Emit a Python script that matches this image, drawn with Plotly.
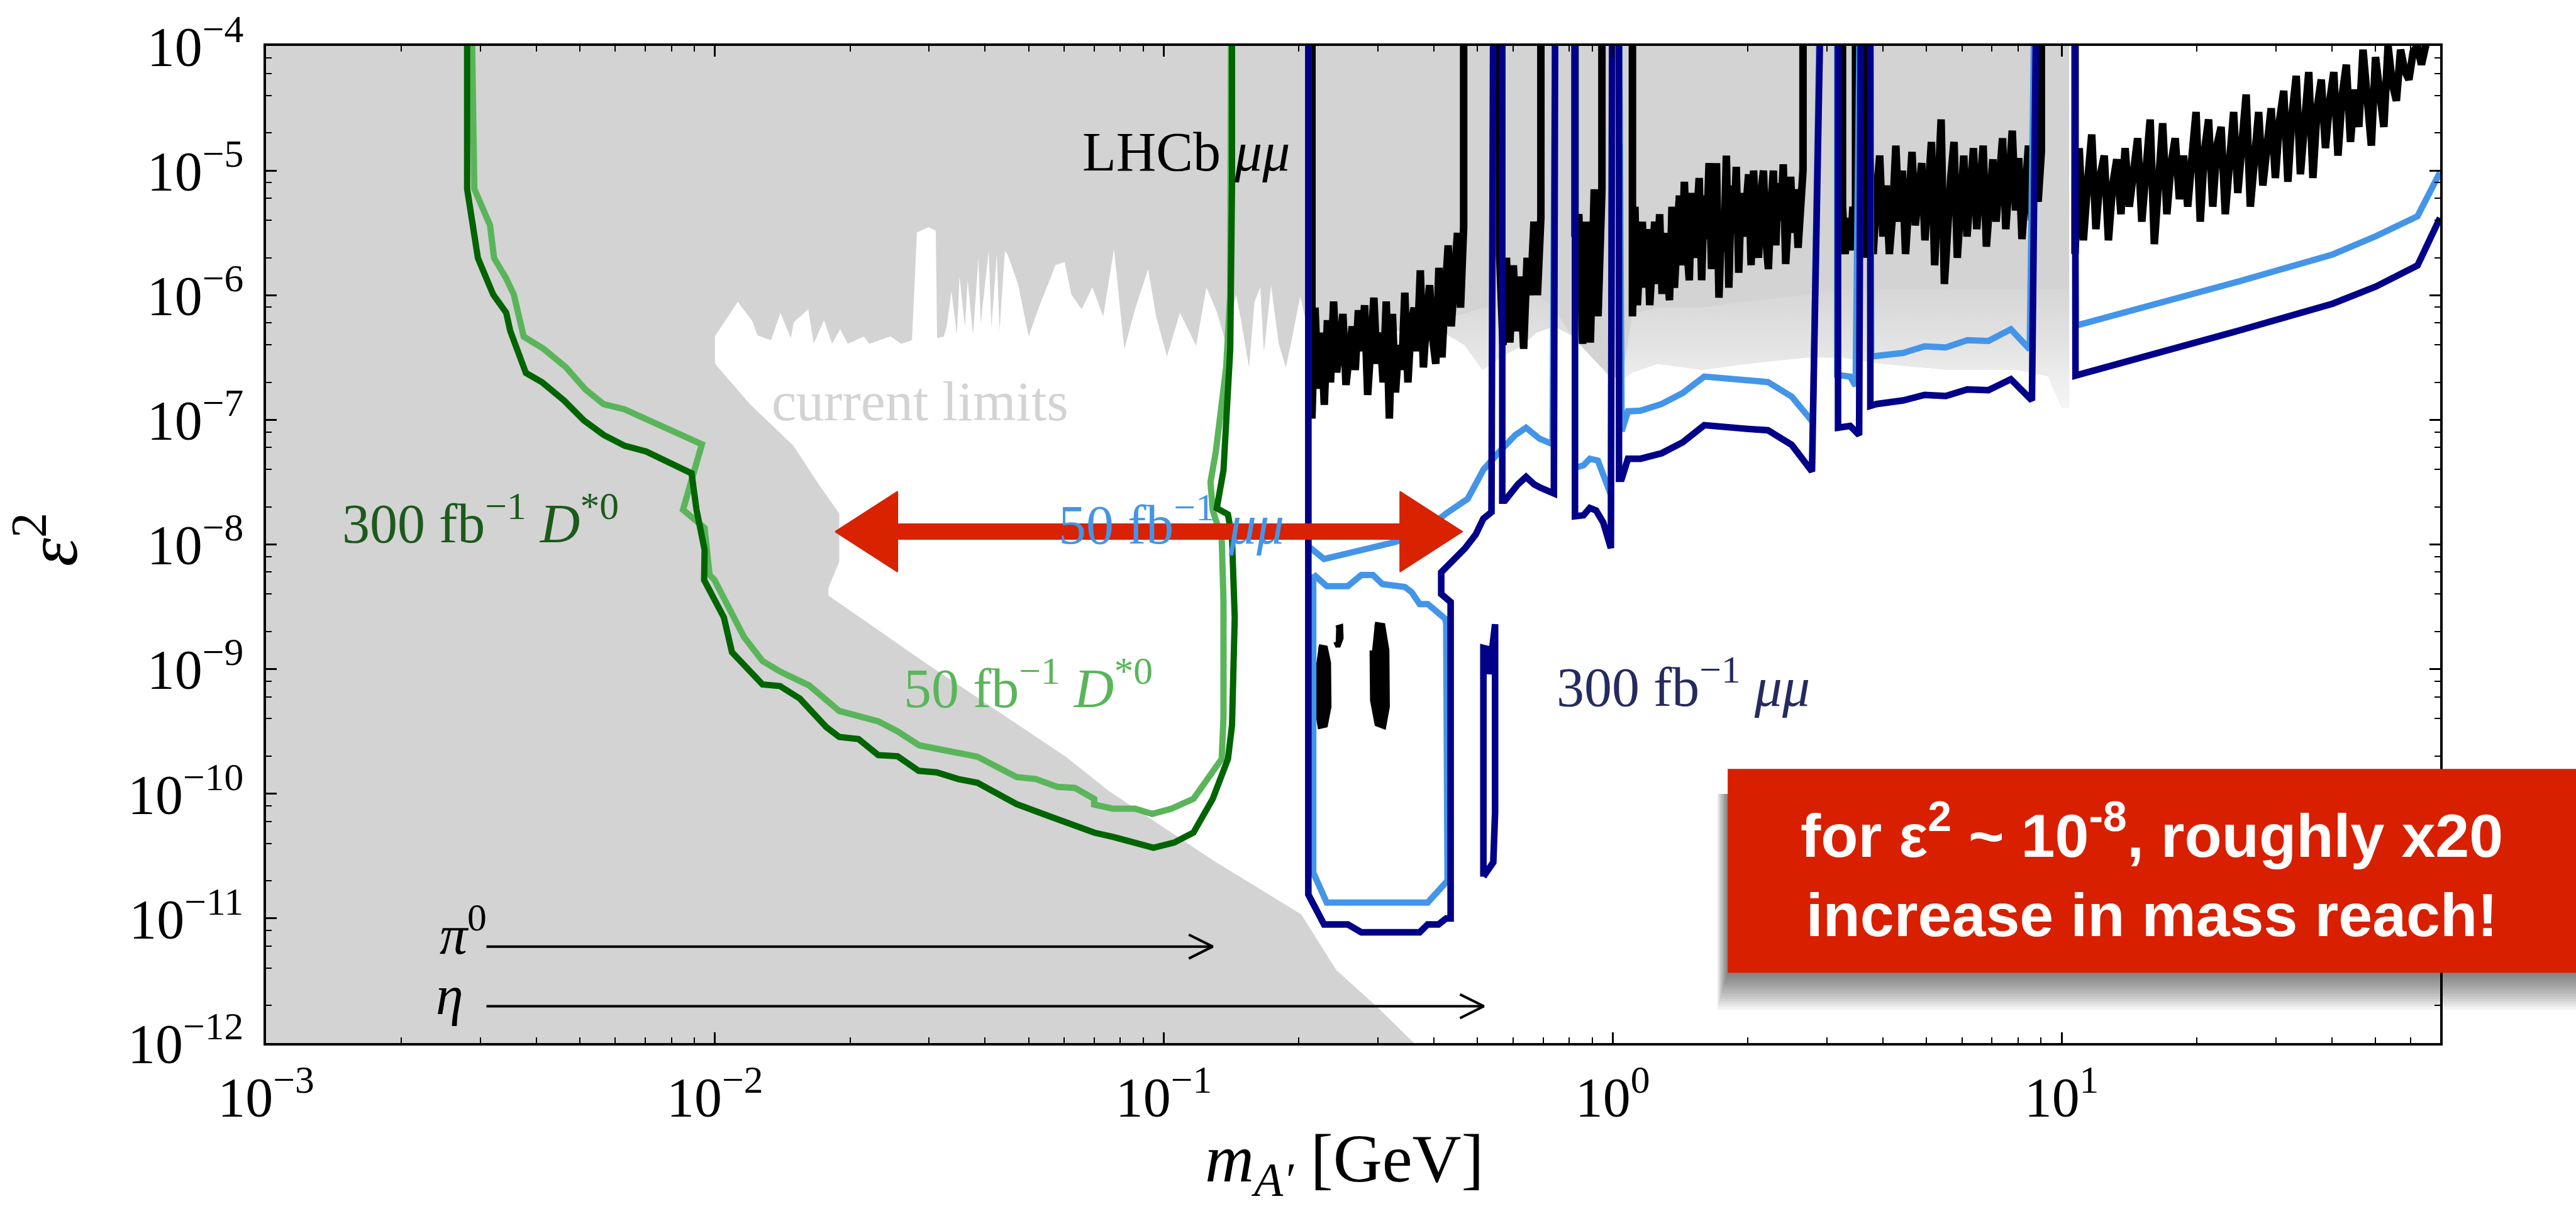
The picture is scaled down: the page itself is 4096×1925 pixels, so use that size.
import numpy as np
import plotly.graph_objects as go

# ---------------- canvas and frame ----------------
W, H = 4096, 1925
ML, MR, MT, MB = 423, 216, 69, 267
PW, PH = W - ML - MR, H - MT - MB
LOGM_RANGE = [-3.0, 1.8434]          # log10(m_A' / GeV)
LOGE_RANGE = [-12.0, -4.0]           # log10(eps^2)
X_PPD = PW / (LOGM_RANGE[1] - LOGM_RANGE[0])   # pixels per decade
Y_PPD = PH / (LOGE_RANGE[1] - LOGE_RANGE[0])
TOP = -3.5                           # above the frame: curves leave through the top

SERIF = "Liberation Serif, DejaVu Serif, serif"
SANS = "Liberation Sans, Arial, Helvetica, sans-serif"

GRAY = "#d3d3d3"
DARK_GREEN = "#006400"
LIGHT_GREEN = "#5ab55a"
NAVY = "#000088"
LIGHT_BLUE = "#4495e8"
RED = "#d92200"

# ---------------- existing limits ----------------
# lower edge of the excluded band above the allowed window (log10 m, log10 eps^2)
UPPER_EDGE_LOGM = [-2.000, -1.949, -1.917, -1.905, -1.875, -1.854, -1.831, -1.824, -1.810, -1.792,
                   -1.780, -1.757, -1.739, -1.721, -1.704, -1.668, -1.656, -1.609, -1.585, -1.561,
                   -1.550, -1.524, -1.508, -1.505, -1.490, -1.484, -1.473, -1.461, -1.455, -1.443,
                   -1.437, -1.425, -1.413, -1.408, -1.390, -1.384, -1.372, -1.366, -1.354, -1.348,
                   -1.325, -1.301, -1.277, -1.254, -1.242, -1.221, -1.206, -1.183, -1.159, -1.135,
                   -1.111, -1.088, -1.064, -1.035, -1.017, -0.993, -0.964, -0.928, -0.905, -0.881,
                   -0.863, -0.839, -0.828, -0.810, -0.798, -0.785, -0.777, -0.761, -0.744, -0.728,
                   -0.716, -0.696, -0.684]
UPPER_EDGE_LOGE = [-6.331, -6.053, -6.206, -6.323, -6.361, -6.141, -6.346, -6.214, -6.171, -6.112,
                   -6.390, -6.200, -6.390, -6.273, -6.390, -6.331, -6.390, -6.331, -6.390, -6.361,
                   -5.497, -5.454, -5.483, -6.346, -6.331, -6.258, -5.966, -6.317, -5.849, -6.258,
                   -5.878, -6.317, -5.702, -6.229, -5.644, -6.258, -5.673, -6.288, -5.644, -5.673,
                   -5.907, -6.331, -6.083, -5.878, -5.761, -5.732, -5.995, -6.112, -5.937, -6.171,
                   -5.629, -6.434, -6.112, -5.790, -6.171, -6.492, -6.141, -6.405, -5.937, -6.141,
                   -6.375, -5.995, -6.200, -6.580, -6.053, -5.937, -6.463, -5.922, -6.390, -6.580,
                   -6.375, -6.010, -6.200]

# under the LHCb dimuon scan: solid edge and the fading hairline band below it
FUZZ_LOGM = [-0.684, -0.60, -0.50, -0.40, -0.33, -0.29, -0.25, -0.20, -0.17, -0.13, -0.093, -0.051,
             -0.010, 0.02, 0.044, 0.10, 0.20, 0.30, 0.43, 0.51, 0.60, 0.75, 0.90, 0.97, 1.0, 1.017]
SOLID_LOW = [-6.30, -6.35, -6.30, -6.20, -6.15, -6.10, -6.10, -6.05, -5.99, -6.10, -6.32, -6.48,
             -6.64, -6.68, -6.15, -6.10, -6.10, -6.05, -6.00, -5.95, -5.95, -5.95, -5.95, -5.95, -5.95, -5.95]
FUZZ_LOW = [-6.30, -6.35, -6.30, -6.25, -6.40, -6.60, -6.50, -6.40, -6.30, -6.25, -6.32, -6.48,
            -6.64, -6.68, -6.62, -6.55, -6.60, -6.55, -6.50, -6.50, -6.55, -6.60, -6.60, -6.65, -6.90, -6.90]

# beam-dump boundary, from the bottom of the frame upwards
BEAM_DUMP_LOGM = [-0.386, -0.443, -0.525, -0.616, -0.694, -0.891, -1.122, -1.218, -1.535, -1.747,
                  -1.747, -1.723, -1.723, -1.769, -1.825, -1.922, -2.000]
BEAM_DUMP_LOGE = [-12.2, -12.0, -11.71, -11.413, -10.967, -10.533, -9.978, -9.703, -8.94, -8.41,
                  -8.347, -8.139, -7.751, -7.517, -7.208, -6.874, -6.549]

# ---------------- LHCb dimuon limit (black) ----------------
# (first log10 m, last log10 m, log10 eps^2 along the scan)
LHCB_SCAN = [
    (-0.670, -0.332, [-6.99, -6.10, -6.75, -6.30, -6.88, -6.20, -6.70, -6.05, -6.62, -6.40, -6.15, -6.72,
                      -6.40, -6.25, -6.60, -6.12, -6.45, -6.08, -6.80, -6.35, -6.02, -6.55, -6.30, -6.70,
                      -6.05, -6.99, -6.15, -6.78, -6.40, -6.60, -5.98, -6.70, -6.25, -6.10, -6.45, -5.80,
                      -6.58, -6.20, -5.92, -6.35, -6.55, -5.78, -6.50, -6.00, -5.60, -6.25, -5.95, -5.50,
                      -6.10, -5.45]),
    (-0.252, -0.160, [-5.67, -6.40, -5.70, -6.38, -5.76, -6.29, -5.85, -6.43, -5.70, -6.00, -5.41, -6.00, -5.38]),
    (-0.084, -0.024, [-5.53, -5.35, -6.39, -5.41, -6.38, -5.15, -6.17, -5.15]),
    (0.044, 0.424, [-6.17, -5.29, -6.08, -5.70, -5.41, -5.94, -5.47, -6.08, -5.60, -5.41, -5.91, -5.35,
                    -5.99, -5.50, -5.80, -6.04, -5.29, -5.94, -5.55, -5.20, -5.76, -5.09, -5.60, -5.88,
                    -5.18, -5.70, -5.40, -5.06, -5.88, -5.20, -5.55, -4.94, -5.79, -5.30, -4.94, -6.02,
                    -5.41, -5.65, -4.88, -5.94, -5.12, -5.50, -4.97, -5.82, -5.18, -5.53, -5.25, -5.03,
                    -5.76, -5.00, -5.45, -5.70, -5.18, -5.00, -5.55, -5.79, -5.29, -5.00, -5.60, -5.10,
                    -5.40, -4.95, -5.75, -5.20, -5.05, -5.50, -5.15, -5.62, -5.25, -5.00]),
    (0.512, 0.541, [-5.29, -5.67, -5.38, -5.64, -5.29, -5.61]),
    (0.566, 0.955, [-5.70, -4.91, -5.67, -5.20, -4.88, -5.53, -5.12, -5.67, -5.35, -4.80, -5.41, -5.00,
                    -5.67, -5.25, -4.85, -5.44, -5.12, -4.94, -5.56, -5.10, -4.77, -5.76, -5.20, -4.59,
                    -5.91, -5.41, -5.05, -4.77, -5.70, -5.30, -4.88, -5.53, -5.10, -4.82, -5.47, -5.20,
                    -4.80, -5.61, -5.15, -4.91, -5.41, -5.00, -4.74, -5.47, -5.10, -4.68, -5.32, -4.90,
                    -5.55, -5.05, -4.80, -5.40, -4.95, -5.25, -4.85]),
    (1.030, 1.811, [-5.67, -4.82, -5.56, -5.10, -4.71, -5.47, -5.05, -4.88, -5.56, -5.12, -4.91, -5.35,
                    -4.82, -5.29, -5.00, -4.74, -5.41, -4.95, -4.59, -5.59, -5.00, -4.62, -5.35, -4.95,
                    -4.74, -5.23, -4.88, -5.29, -4.90, -4.53, -5.41, -4.85, -4.59, -5.29, -4.80, -4.65,
                    -5.35, -4.85, -4.53, -5.18, -4.70, -4.39, -5.29, -4.80, -4.53, -5.12, -4.75, -4.50,
                    -5.06, -4.60, -4.36, -5.09, -4.55, -4.24, -5.03, -4.60, -4.21, -5.06, -4.50, -4.27,
                    -4.82, -4.45, -4.21, -4.88, -4.40, -4.15, -4.77, -4.35, -4.65, -4.03, -4.50, -4.80,
                    -4.09, -4.40, -4.65, -4.00, -4.30, -4.44, -4.03, -4.20, -4.27, -4.05, -4.00, -4.15,
                    -4.00]),
]
# small displaced-vertex islands of the same limit
LHCB_ISLANDS = [
    ([-0.655, -0.640, -0.633, -0.632, -0.640, -0.652, -0.659, -0.660],
     [-8.82, -8.83, -8.95, -9.30, -9.45, -9.46, -9.30, -8.95]),
    ([-0.616, -0.606, -0.605, -0.612, -0.617],
     [-8.67, -8.66, -8.75, -8.82, -8.78]),
    ([-0.530, -0.512, -0.503, -0.502, -0.510, -0.525, -0.535, -0.536],
     [-8.64, -8.65, -8.85, -9.30, -9.46, -9.44, -9.25, -8.85]),
]

# ---------------- D*0 -> D0 A' projections ----------------
DSTAR_300_LOGM = [-2.552, -2.552, -2.528, -2.494, -2.465, -2.456, -2.421, -2.385, -2.336, -2.292, -2.248,
                  -2.201, -2.153, -2.052, -2.041, -2.023, -2.024, -1.988, -1.980, -1.962, -1.894, -1.855,
                  -1.811, -1.752, -1.723, -1.680, -1.636, -1.593, -1.546, -1.506, -1.458, -1.415, -1.328,
                  -1.256, -1.155, -1.113, -1.064, -1.023, -0.977, -0.934, -0.891, -0.857, -0.848, -0.842,
                  -0.848, -0.857, -0.882, -0.867, -0.857, -0.852, -0.848, -0.848]
DSTAR_300_LOGE = [TOP, -5.147, -5.702, -5.994, -6.140, -6.286, -6.624, -6.699, -6.845, -7.004, -7.121,
                  -7.208, -7.254, -7.429, -7.721, -8.043, -8.285, -8.514, -8.585, -8.864, -9.123, -9.136,
                  -9.236, -9.465, -9.544, -9.561, -9.690, -9.699, -9.816, -9.828, -9.882, -9.912, -10.083,
                  -10.179, -10.312, -10.346, -10.392, -10.433, -10.392, -10.312, -10.041, -9.720, -9.449, -8.589,
                  -7.951, -7.759, -7.709, -7.404, -6.758, -6.432, -5.118, TOP]
DSTAR_50_LOGM = [-2.543, -2.536, -2.501, -2.492, -2.465, -2.448, -2.426, -2.381, -2.332, -2.288, -2.248,
                 -2.201, -2.029, -2.071, -2.023, -2.012, -2.001, -1.959, -1.935, -1.894, -1.853, -1.790,
                 -1.723, -1.636, -1.593, -1.545, -1.415, -1.328, -1.285, -1.237, -1.198, -1.155, -1.155,
                 -1.113, -1.064, -1.026, -0.983, -0.934, -0.871, -0.867, -0.867, -0.871, -0.891, -0.896,
                 -0.884, -0.861, -0.852, -0.850]
DSTAR_50_LOGE = [TOP, -5.147, -5.439, -5.702, -5.865, -5.994, -6.332, -6.432, -6.578, -6.758, -6.874,
                 -6.916, -7.196, -7.721, -7.867, -8.243, -8.285, -8.564, -8.743, -8.935, -9.023, -9.131,
                 -9.336, -9.419, -9.499, -9.611, -9.703, -9.866, -9.882, -9.945, -9.953, -10.041, -10.087,
                 -10.120, -10.120, -10.162, -10.120, -10.041, -9.720, -9.386, -8.460, -7.951, -7.725, -7.500,
                 -7.254, -6.578, -5.994, TOP]

# ---------------- LHCb Upgrade dimuon projections ----------------
MUMU_300_LOGM = [-0.678, -0.678, -0.643, -0.590, -0.560, -0.430, -0.412, -0.388, -0.371, -0.361, -0.361,
                 -0.382, -0.382, -0.329, -0.305, -0.288, -0.270, -0.266, None,
                 -0.246, -0.246, -0.240, -0.211, -0.193, -0.175, -0.160, -0.131, -0.128, None,
                 -0.084, -0.084, -0.065, -0.051, -0.037, -0.021, -0.004, -0.001, None,
                 0.014, 0.014, 0.020, 0.034, 0.062, 0.109, 0.156, 0.204, 0.298, 0.346, 0.399, 0.444, 0.464, None,
                 0.502, 0.502, 0.529, 0.549, 0.553, None,
                 0.574, 0.574, 0.588, 0.647, 0.695, 0.742, 0.790, 0.837, 0.887, 0.934, 0.944, None,
                 1.030, 1.031, 1.391, 1.604, 1.700, 1.793, 1.843, None,
                 -0.288, -0.288, -0.277, -0.275, -0.262, -0.262, -0.266, -0.288]
MUMU_300_LOGE = [TOP, -10.809, -11.048, -11.048, -11.112, -11.112, -11.048, -11.048, -11.0, -11.0, -8.462,
                 -8.398, -8.223, -8.031, -7.919, -7.792, -7.740, TOP, None,
                 TOP, -7.648, -7.648, -7.517, -7.458, -7.517, -7.546, -7.590, TOP, None,
                 TOP, -7.774, -7.766, -7.707, -7.727, -7.824, -8.029, TOP, None,
                 TOP, -7.473, -7.473, -7.312, -7.312, -7.268, -7.180, -7.043, -7.072, -7.084, -7.201, -7.414, TOP, None,
                 TOP, -7.063, -7.049, -7.122, TOP, None,
                 TOP, -6.888, -6.873, -6.844, -6.800, -6.809, -6.756, -6.762, -6.674, -6.844, TOP, None,
                 TOP, -6.645, -6.288, -6.068, -5.931, -5.761, -5.380, None,
                 -10.665, -8.830, -8.840, -9.040, -8.640, -10.150, -10.550, -10.665]
MUMU_50_LOGM = [-0.678, -0.678, -0.643, -0.572, -0.483, -0.412, -0.371, -0.323, -0.288, -0.252, -0.217,
                -0.193, -0.163, -0.134, -0.128, None,
                -0.084, -0.084, -0.065, -0.051, -0.033, -0.018, -0.004, -0.001, None,
                0.014, 0.020, 0.034, 0.062, 0.109, 0.156, 0.204, 0.298, 0.346, 0.399, 0.446, 0.462, None,
                0.500, 0.500, 0.529, 0.541, 0.551, None,
                0.574, 0.576, 0.647, 0.695, 0.742, 0.790, 0.837, 0.887, 0.929, 0.940, None,
                1.028, 1.032, 1.391, 1.604, 1.700, 1.793, 1.843, None,
                -0.667, -0.637, -0.590, -0.560, -0.534, -0.513, -0.463, -0.448, -0.430, -0.412, -0.373,
                -0.371, -0.368, -0.412, -0.637, -0.667, -0.667]
MUMU_50_LOGE = [TOP, -8.014, -8.117, -8.058, -7.979, -7.868, -7.751, -7.634, -7.400, -7.254, -7.122,
                -7.063, -7.151, -7.195, TOP, None,
                TOP, -7.385, -7.365, -7.312, -7.327, -7.458, -7.600, TOP, None,
                TOP, -7.092, -6.932, -6.926, -6.873, -6.785, -6.653, -6.683, -6.697, -6.814, -7.019, TOP, None,
                TOP, -6.639, -6.653, -6.727, TOP, None,
                TOP, -6.492, -6.463, -6.410, -6.419, -6.361, -6.367, -6.273, -6.434, TOP, None,
                TOP, -6.244, -5.893, -5.673, -5.527, -5.366, -5.015, None,
                -8.239, -8.334, -8.334, -8.245, -8.245, -8.318, -8.341, -8.382, -8.478, -8.478, -8.596,
                -8.638, -10.697, -10.873, -10.873, -10.633, -8.239]

# ---------------- meson mass reach arrows ----------------
MESON_NAMES = ["<i>π</i><sup>0</sup>", "<i>η</i>"]
MESON_ARROW_START = [-2.509, -2.509]      # log10 m
MESON_ARROW_END = [-0.891, -0.287]        # log10 m
MESON_ARROW_LOGE = [-11.226, -11.705]
MESON_LABEL_RIGHT = [-2.505, -2.557]
MESON_LABEL_LOGE = [-11.10, -11.62]

# reach gain at eps^2 ~ 1e-8
REACH_FROM, REACH_TO, REACH_LOGE = -1.732, -0.335, -7.897

# axis ticks
X_TICK_EXP = [-3, -2, -1, 0, 1]
Y_TICK_EXP = [-12, -11, -10, -9, -8, -7, -6, -5, -4]


def pw(vals):
    return [None if v is None else 10.0 ** v for v in vals]


def sup_label(e):
    return "10<sup>" + ("−" + str(-e) if e < 0 else str(e)) + "</sup>"


fig = go.Figure()

# allowed (white) window inside the grey excluded region
white_m = UPPER_EDGE_LOGM + FUZZ_LOGM + [1.017, 1.95, 1.95] + BEAM_DUMP_LOGM
white_e = UPPER_EDGE_LOGE + FUZZ_LOW + [TOP, TOP, -12.2] + BEAM_DUMP_LOGE
fig.add_trace(go.Scatter(x=pw(white_m), y=pw(white_e), mode="lines", fill="toself",
                         fillcolor="white", line=dict(width=0, color="white"),
                         hoverinfo="skip", showlegend=False))
# fading hairline band under the dimuon scan
fig.add_trace(go.Scatter(x=pw(FUZZ_LOGM + FUZZ_LOGM[::-1]), y=pw(SOLID_LOW + FUZZ_LOW[::-1]),
                         mode="lines", fill="toself",
                         fillgradient=dict(type="vertical",
                                           colorscale=[[0, "#f6f6f6"], [0.5, "#e4e4e4"], [1, "#d6d6d6"]]),
                         line=dict(width=0, color="#e3e3e3"), hoverinfo="skip", showlegend=False))

# LHCb dimuon scan
lx, ly = [], []
for m0, m1, vals in LHCB_SCAN:
    xs = list(np.linspace(m0, m1, len(vals)))
    lx += [m0] + xs + [m1, None]
    ly += [TOP] + vals + [TOP, None]
fig.add_trace(go.Scatter(x=pw(lx), y=pw(ly), mode="lines",
                         line=dict(color="black", width=12), hoverinfo="skip", showlegend=False))
for im, ie in LHCB_ISLANDS:
    fig.add_trace(go.Scatter(x=pw(im), y=pw(ie), mode="lines", fill="toself", fillcolor="black",
                             line=dict(color="black", width=8), hoverinfo="skip", showlegend=False))

# D*0 curves
fig.add_trace(go.Scatter(x=pw(DSTAR_50_LOGM), y=pw(DSTAR_50_LOGE), mode="lines",
                         line=dict(color=LIGHT_GREEN, width=10), hoverinfo="skip", showlegend=False))
fig.add_trace(go.Scatter(x=pw(DSTAR_300_LOGM), y=pw(DSTAR_300_LOGE), mode="lines",
                         line=dict(color=DARK_GREEN, width=10), hoverinfo="skip", showlegend=False))

# dimuon projections
fig.add_trace(go.Scatter(x=pw(MUMU_50_LOGM), y=pw(MUMU_50_LOGE), mode="lines",
                         line=dict(color=LIGHT_BLUE, width=10), hoverinfo="skip", showlegend=False))
fig.add_trace(go.Scatter(x=pw(MUMU_300_LOGM), y=pw(MUMU_300_LOGE), mode="lines",
                         line=dict(color=NAVY, width=10.5), hoverinfo="skip", showlegend=False))

# pi0 / eta kinematic reach arrows with open heads
back, half = 38 / X_PPD, 19 / Y_PPD
for s, e, y in zip(MESON_ARROW_START, MESON_ARROW_END, MESON_ARROW_LOGE):
    fig.add_trace(go.Scatter(x=pw([s, e, None, e - back, e, e - back]),
                             y=pw([y, y, None, y + half, y, y - half]),
                             mode="lines", line=dict(color="black", width=4),
                             hoverinfo="skip", showlegend=False))

# double-headed reach arrow
hl, hh, sh = 99 / X_PPD, 64 / Y_PPD, 12 / Y_PPD
a0, a1, ay = REACH_FROM, REACH_TO, REACH_LOGE
arrow_m = [a0, a0 + hl, a0 + hl, a1 - hl, a1 - hl, a1, a1 - hl, a1 - hl, a0 + hl, a0 + hl, a0]
arrow_e = [ay, ay + hh, ay + sh, ay + sh, ay + hh, ay, ay - hh, ay - sh, ay - sh, ay - hh, ay]
fig.add_trace(go.Scatter(x=pw(arrow_m), y=pw(arrow_e), mode="lines", fill="toself",
                         fillcolor=RED, line=dict(color=RED, width=2),
                         hoverinfo="skip", showlegend=False))


# ---------------- labels ----------------
def label(xm, ye, text, color, size=88, xanchor="center"):
    return dict(x=xm, y=ye, xref="x", yref="y", text=text, showarrow=False,
                xanchor=xanchor, yanchor="middle",
                font=dict(family=SERIF, size=size, color=color))


annotations = [
    label(-0.950, -4.85, "LHCb <i>μμ</i>", "black"),
    label(-1.543, -6.854, "current limits", "#d3d3d3"),
    label(-2.522, -7.80, "300 fb<sup>−1</sup> <i>D</i><sup>*0</sup>", "#1c5a1c"),
    label(-1.302, -9.12, "50 fb<sup>−1</sup> <i>D</i><sup>*0</sup>", LIGHT_GREEN),
    label(-0.983, -7.81, "50 fb<sup>−1</sup> <i>μμ</i>", LIGHT_BLUE),
    label(0.157, -9.11, "300 fb<sup>−1</sup> <i>μμ</i>", "#252b5e"),
]
for name, xr, ye in zip(MESON_NAMES, MESON_LABEL_RIGHT, MESON_LABEL_LOGE):
    annotations.append(label(xr, ye, name, "black", xanchor="right"))

# axis titles
annotations.append(dict(x=0.496, y=-0.121, xref="paper", yref="paper", showarrow=False,
                        text="<i>m</i><sub><i>A′</i></sub> [GeV]", xanchor="center", yanchor="middle",
                        font=dict(family=SERIF, size=108, color="black")))
annotations.append(dict(x=-0.101, y=0.505, xref="paper", yref="paper", showarrow=False,
                        text="<i>ε</i><sup>2</sup>", textangle=-90, xanchor="center", yanchor="middle",
                        font=dict(family=SERIF, size=115, color="black")))

# call-out box
px, py = 1.0 / PW, 1.0 / PH
bx0, bx1, by0, by1 = 0.6723, 1.07, 0.0705, 0.2750
shapes = []
for k in range(1, 15):
    shapes.append(dict(type="rect", xref="paper", yref="paper", layer="above",
                       x0=bx0 - 1.2 * k * px, x1=bx1, y0=by0 - 4.2 * k * py, y1=by1 - 40 * py,
                       fillcolor="rgba(0,0,0,0.045)", line=dict(width=0)))
shapes.append(dict(type="rect", xref="paper", yref="paper", layer="above",
                   x0=bx0, x1=bx1, y0=by0, y1=by1, fillcolor="#d81f00", line=dict(width=0)))
annotations.append(dict(x=0.8675, y=0.1724, xref="paper", yref="paper", showarrow=False,
                        text="for ε<sup>2</sup> ~ 10<sup>-8</sup>, roughly x20<br>increase in mass reach!",
                        align="center", xanchor="center", yanchor="middle",
                        font=dict(family=SANS, size=97, color="white", weight="bold")))

x_minor = [k * 10.0 ** e for e in range(-3, 2) for k in range(2, 10)]
y_minor = [k * 10.0 ** e for e in range(-12, -4) for k in (2, 4, 6, 8)]

axis_common = dict(type="log", showgrid=False, zeroline=False, showline=True, linecolor="black",
                   linewidth=4, mirror="allticks", ticks="inside", ticklen=17, tickwidth=2.5,
                   tickcolor="black", tickfont=dict(family=SERIF, size=88, color="black"))

fig.update_layout(
    width=W, height=H, autosize=False,
    margin=dict(l=ML, r=MR, t=MT, b=MB, pad=0),
    paper_bgcolor="white", plot_bgcolor=GRAY,
    showlegend=False,
    xaxis=dict(range=LOGM_RANGE, tickvals=[10.0 ** e for e in X_TICK_EXP],
               ticktext=[sup_label(e) for e in X_TICK_EXP], ticklabelstandoff=6,
               minor=dict(ticks="inside", ticklen=9, tickwidth=2, tickcolor="black",
                          tickvals=x_minor, showgrid=False),
               **axis_common),
    yaxis=dict(range=LOGE_RANGE, tickvals=[10.0 ** e for e in Y_TICK_EXP],
               ticktext=[sup_label(e) for e in Y_TICK_EXP], ticklabelstandoff=14,
               minor=dict(ticks="inside", ticklen=9, tickwidth=2, tickcolor="black",
                          tickvals=y_minor, showgrid=False),
               **axis_common),
    annotations=annotations,
    shapes=shapes,
)

fig.write_html("out.html", post_script="document.body.style.margin='0';")
